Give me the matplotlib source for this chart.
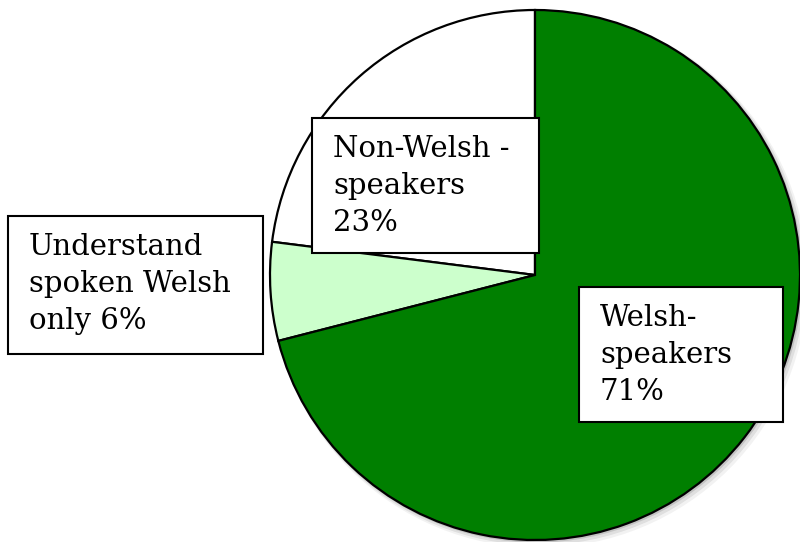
import matplotlib.pyplot as plt
from matplotlib.patches import Rectangle

# slice data, counter-clockwise from the top
labels = ["Non-Welsh -\nspeakers\n23%", "Understand\nspoken Welsh\nonly 6%", "Welsh-\nspeakers\n71%"]
shares = [23, 6, 71]
colors = ["#ffffff", "#ccffcc", "#007f00"]

# label boxes in pixels: left, top, right, bottom
boxes = [(312, 118, 539, 253), (8, 216, 263, 354), (579, 287, 783, 422)]

W, H = 800, 542
fig = plt.figure(figsize=(8, 5.42), dpi=100)
ax = fig.add_axes([0, 0, 1, 1])

cx, cy, r = 535, 275, 265

# soft shadow behind the pie
for k, a in enumerate([0.05, 0.08, 0.12]):
    off = (3 - k) * 1.5 / r
    ax.add_patch(plt.Circle((off, -off), 1.0 + (3 - k) * 0.004, color="black",
                            alpha=a, lw=0, zorder=0))

wedges, _ = ax.pie(shares, colors=colors, startangle=90, counterclock=True,
                   radius=1.0, wedgeprops=dict(edgecolor="black", linewidth=1.6))

ax.set_xlim(-cx / r, (W - cx) / r)
ax.set_ylim(-(H - cy) / r, cy / r)
ax.set_aspect("auto")
ax.axis("off")

for (l, t, rr, b), txt in zip(boxes, labels):
    rect = Rectangle((l / W, 1 - b / H), (rr - l) / W, (b - t) / H,
                     transform=fig.transFigure, facecolor="white",
                     edgecolor="black", linewidth=1.5, zorder=5)
    fig.add_artist(rect)
    fig.text((l + 21) / W, 1 - (t + 17) / H, txt, ha="left", va="top",
             fontsize=21, family="DejaVu Serif", linespacing=1.42, zorder=6)

fig.savefig("out.png", dpi=100)
